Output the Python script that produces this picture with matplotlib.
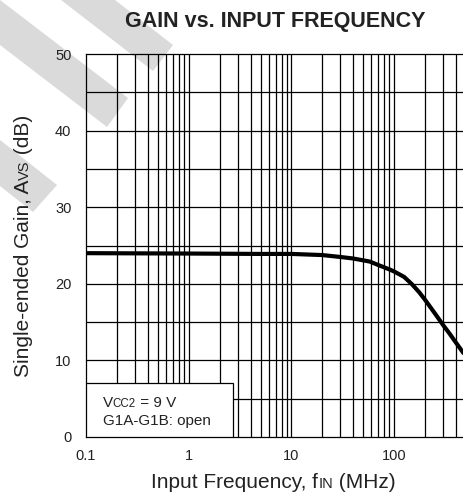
import matplotlib
matplotlib.use("Agg")
import matplotlib.pyplot as plt
from matplotlib.patches import Polygon, Rectangle
from matplotlib.transforms import IdentityTransform
import numpy as np

FONT = ["Liberation Sans", "DejaVu Sans"]
plt.rcParams['font.family'] = FONT

# ---- data ----
freq_mhz = [0.1, 1, 5, 10, 20, 30, 40, 58, 70, 91, 100, 125, 150, 175, 200, 250, 300, 350, 400, 500]
gain_db = [24.0, 23.95, 23.9, 23.9, 23.75, 23.5, 23.3, 22.9, 22.45, 21.85, 21.6, 20.9, 19.9, 18.9, 17.9, 16.1, 14.6, 13.4, 12.3, 10.5]
x_ticks = [0.1, 1, 10, 100]
x_tick_labels = ["0.1", "1", "10", "100"]
y_ticks = [0, 10, 20, 30, 40, 50]
y_tick_labels = ["0", "10", "20", "30", "40", "50"]
xlim = (0.1, 500)
ylim = (0, 50)

W, H = 464, 500
fig = plt.figure(figsize=(W / 100, H / 100), dpi=100)
fig.patch.set_facecolor("white")

# watermark stripes (image pixel coords, y down)
stripes = [
    [(61, 0), (115, 0), (173, 45), (153, 71)],
    [(0, 0), (0, 45), (107, 127), (128, 98)],
    [(0, 140), (57, 185), (33, 212), (0, 186)],
]
for s in stripes:
    pts = [(x / W, 1 - y / H) for x, y in s]
    fig.patches.append(Polygon(pts, closed=True, transform=fig.transFigure,
                               facecolor="#dadada", edgecolor="none", zorder=-5))

ax_l, ax_r = 86 / W, 466 / W
ax_b, ax_t = 1 - 437 / H, 1 - 54 / H
ax = fig.add_axes([ax_l, ax_b, ax_r - ax_l, ax_t - ax_b])
ax.set_facecolor("none")
ax.set_xscale("log")
ax.set_xlim(*xlim)
ax.set_ylim(*ylim)

# grid
for dec in [0.1, 1, 10, 100]:
    for m in range(1, 10):
        v = dec * m
        if xlim[0] < v < xlim[1]:
            ax.axvline(v, color="black", lw=0.9, zorder=1)
for v in np.arange(5, 50, 5):
    ax.axhline(v, color="black", lw=0.9, zorder=1)

ax.plot(freq_mhz, gain_db, color="black", lw=3.0, solid_capstyle="butt",
        solid_joinstyle="round", zorder=3)

ax.set_xticks(x_ticks)
ax.set_xticklabels(x_tick_labels)
ax.set_xticks([], minor=True)
ax.set_yticks(y_ticks)
ax.set_yticklabels(y_tick_labels)
ax.tick_params(axis="both", length=0, labelsize=10.5, colors="#222222")
ax.tick_params(axis="x", pad=9)
ax.tick_params(axis="y", pad=10.5)
for side in ["left", "bottom", "top"]:
    ax.spines[side].set_color("black")
    ax.spines[side].set_linewidth(0.9)
ax.spines["right"].set_visible(False)

# info box
ax.add_patch(Rectangle((0, 0), (232.5 - 86) / 380, (437 - 382.5) / 383,
                       transform=ax.transAxes, facecolor="white",
                       edgecolor="black", lw=0.9, zorder=4))

renderer = fig.canvas.get_renderer()


def text_width(s, fs, weight="normal"):
    t1 = fig.text(0, 0, "X" + s + "X", fontsize=fs, weight=weight)
    t2 = fig.text(0, 0, "XX", fontsize=fs, weight=weight)
    w = t1.get_window_extent(renderer).width - t2.get_window_extent(renderer).width
    t1.remove()
    t2.remove()
    return w


def rich(x_img, y_img, pieces, rotation=0, align="left", color="#222222", zorder=5):
    widths = [text_width(s, fs) for s, fs in pieces]
    total = sum(widths)
    xd, yd = x_img, H - y_img
    off = 0 if align == "left" else -total / 2
    for (s, fs), w in zip(pieces, widths):
        if rotation == 0:
            px, py = xd + off, yd
        else:
            px, py = xd, yd + off
        fig.text(px, py, s, fontsize=fs, transform=IdentityTransform(),
                 ha="left", va="baseline", rotation=rotation,
                 rotation_mode="anchor", color=color, zorder=zorder)
        off += w


# title
fig.text(275.5 / W, 1 - 26.7 / H, "GAIN vs. INPUT FREQUENCY", fontsize=15.5,
         weight="bold", ha="center", va="baseline", color="#222222")

# axis labels
rich(273.5, 488, [("Input Frequency, f", 15), ("IN", 10.5), (" (MHz)", 15)], align="center")
rich(29, 246, [("Single-ended Gain, A", 15), ("VS", 10.5), (" (dB)", 15)], rotation=90, align="center")

# box text
rich(102.7, 407, [("V", 11), ("CC2", 8.3), (" = 9 V", 11)])
rich(102.7, 424.5, [("G1A-G1B: open", 11)])

fig.savefig("out.png", dpi=100)
